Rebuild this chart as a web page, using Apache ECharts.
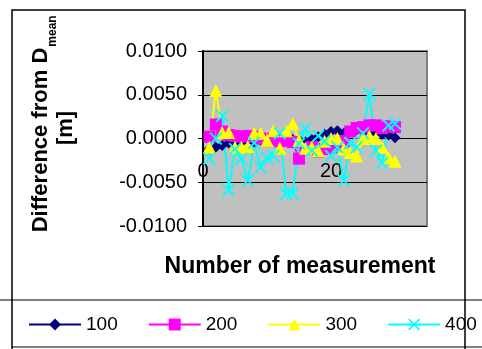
<!DOCTYPE html>
<html>
<head>
<meta charset="utf-8">
<script src="https://cdn.jsdelivr.net/npm/echarts@6/dist/echarts.min.js"></script>
<style>
html, body { margin: 0; padding: 0; background: #fff; }
#main { width: 482px; height: 349px; }
</style>
</head>
<body>
<div id="main"></div>
<script>
// measurement numbers
var nums = [1,2,3,4,5,6,7,8,9,10,11,12,13,14,15,16,17,18,19,20,21,22,23,24,25,26,27,28,29,30];
var seriesNames = ['100', '200', '300', '400'];

var d100 = [-0.0012,-0.0010,-0.0008,-0.0005,-0.0006,-0.0004,-0.0003,-0.0004,-0.0002,-0.0003,
            -0.0001,-0.0002,0.0000,-0.0001,-0.0002,-0.0004,-0.0001,0.0002,0.0005,0.0008,
            0.0009,0.0006,0.0008,0.0010,0.0008,0.0006,0.0007,0.0005,0.0004,0.0001];
var d200 = [0.0002,0.0016,0.0008,0.0004,0.0003,0.0002,0.0003,0.0002,0.0000,-0.0002,
            0.0000,-0.0003,-0.0002,-0.0004,-0.0023,-0.0012,-0.0010,-0.0015,-0.0012,-0.0010,
            -0.0006,-0.0003,0.0008,0.0012,0.0013,0.0015,0.0015,0.0012,0.0014,0.0013];
var d300 = [-0.0010,0.0055,0.0007,0.0007,-0.0010,-0.0010,-0.0009,0.0006,0.0006,-0.0002,
            0.0009,-0.0011,0.0009,0.0017,-0.0002,-0.0011,-0.0010,-0.0014,-0.0003,0.0000,
            0.0000,-0.0012,-0.0016,-0.0020,0.0000,0.0003,0.0000,-0.0010,-0.0022,-0.0026];
var d400 = [-0.0023,0.0000,0.0026,-0.0059,-0.0012,-0.0023,-0.0048,-0.0005,-0.0033,-0.0022,
            -0.0020,0.0006,-0.0063,-0.0063,-0.0006,0.0011,-0.0014,0.0003,-0.0003,-0.0020,
            -0.0010,-0.0048,-0.0005,-0.0010,0.0006,0.0051,-0.0014,-0.0028,0.0015,0.0017];

function pairs(vals) {
    return nums.map(function (n, i) { return [n, vals[i]]; });
}

var crossPath = 'path://M0,1 L1,0 L5,4 L9,0 L10,1 L6,5 L10,9 L9,10 L5,6 L1,10 L0,9 L4,5 Z';
var font = '"Liberation Sans", Arial, sans-serif';

var chart = echarts.init(document.getElementById('main'));

var option = {
    backgroundColor: '#ffffff',
    animation: false,
    grid: {
        left: 203, top: 51, width: 224, height: 175,
        show: true,
        backgroundColor: '#C0C0C0',
        borderColor: '#808080',
        borderWidth: 2
    },
    xAxis: {
        type: 'value',
        min: 0,
        max: 35,
        interval: 20,
        offset: -88,   // axis sits on the zero line
        axisLine: { show: false },
        axisTick: { show: false },
        splitLine: { show: false },
        axisLabel: {
            showMaxLabel: false,
            margin: 23,
            fontSize: 20,
            color: '#000',
            fontFamily: font
        }
    },
    yAxis: {
        type: 'value',
        min: -0.01,
        max: 0.01,
        interval: 0.005,
        axisLine: { show: true, lineStyle: { color: '#000', width: 2 } },
        axisTick: { show: true, inside: false, length: 5, lineStyle: { color: '#000' } },
        splitLine: { show: true, lineStyle: { color: '#000', width: 1 } },
        axisLabel: {
            margin: 16,
            fontSize: 20,
            color: '#000',
            fontFamily: font,
            formatter: function (v) { return v.toFixed(4); }
        }
    },
    legend: {
        left: 23,
        top: 310,
        width: 470,
        itemWidth: 52,
        itemHeight: 15,
        itemGap: 30,
        lineStyle: { width: 2 },
        textStyle: { fontSize: 19, color: '#000', fontFamily: font },
        data: seriesNames
    },
    series: [
        {
            name: seriesNames[0], type: 'line', data: pairs(d100),
            symbol: 'diamond', symbolSize: 11,
            itemStyle: { color: '#000080' },
            lineStyle: { color: '#000080', width: 2 }
        },
        {
            name: seriesNames[1], type: 'line', data: pairs(d200),
            symbol: 'rect', symbolSize: 12,
            itemStyle: { color: '#FF00FF' },
            lineStyle: { color: '#FF00FF', width: 2 }
        },
        {
            name: seriesNames[2], type: 'line', data: pairs(d300),
            symbol: 'triangle', symbolSize: 13,
            itemStyle: { color: '#FFFF00' },
            lineStyle: { color: '#FFFF00', width: 2 }
        },
        {
            name: seriesNames[3], type: 'line', data: pairs(d400),
            symbol: crossPath, symbolSize: 13,
            itemStyle: { color: '#00FFFF' },
            lineStyle: { color: '#00FFFF', width: 2 }
        }
    ],
    graphic: [
        // outer chart frame
        { type: 'rect', shape: { x: 12, y: 10, width: 453, height: 360 }, style: { fill: null, stroke: '#000', lineWidth: 1.5 }, z: 100 },
        // legend box
        { type: 'line', shape: { x1: 0, y1: 300, x2: 482, y2: 300 }, style: { stroke: '#000', lineWidth: 1 }, z: 100 },
        { type: 'line', shape: { x1: 12, y1: 347, x2: 482, y2: 347 }, style: { stroke: '#000', lineWidth: 1 }, z: 100 },
        // axis titles
        { type: 'text', x: 41, y: 140, rotation: Math.PI / 2,
          style: { text: 'Difference from D', fontSize: 22, fontWeight: 'bold', fontFamily: font, fill: '#000', align: 'center', verticalAlign: 'middle' } },
        { type: 'text', x: 53, y: 31, rotation: Math.PI / 2,
          style: { text: 'mean', fontSize: 12, fontWeight: 'bold', fontFamily: font, fill: '#000', align: 'center', verticalAlign: 'middle' } },
        { type: 'text', x: 66, y: 128, rotation: Math.PI / 2,
          style: { text: '[m]', fontSize: 22, fontWeight: 'bold', fontFamily: font, fill: '#000', align: 'center', verticalAlign: 'middle' } },
        { type: 'text', x: 300, y: 267,
          style: { text: 'Number of measurement', fontSize: 23, fontWeight: 'bold', fontFamily: font, fill: '#000', align: 'center', verticalAlign: 'middle' } }
    ]
};

chart.setOption(option);
</script>
</body>
</html>
